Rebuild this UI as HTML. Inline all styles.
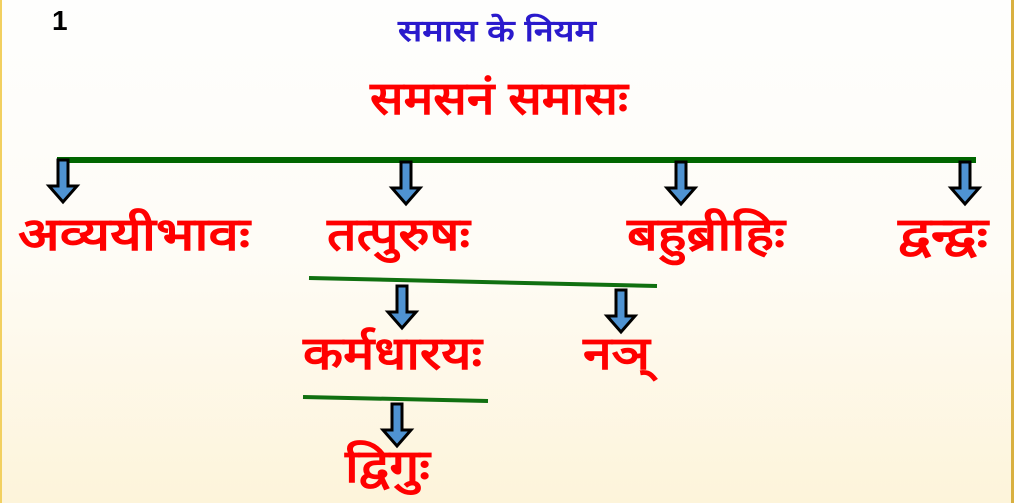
<!DOCTYPE html>
<html><head><meta charset="utf-8"><style>
html,body{margin:0;padding:0;width:1024px;height:503px;overflow:hidden;background:#fff}
svg{display:block}
text{font-family:"Liberation Sans","Noto Sans CJK SC",sans-serif;font-weight:bold}
</style></head><body>
<svg width="1024" height="503" viewBox="0 0 1024 503" xmlns="http://www.w3.org/2000/svg">
<defs>
<linearGradient id="bg" x1="0" y1="0" x2="0" y2="1">
<stop offset="0" stop-color="#fefefd"/><stop offset="0.5" stop-color="#fefcf6"/><stop offset="1" stop-color="#fdf4da"/>
</linearGradient>
<g id="arr"><path d="M-5,0 H5 V26 H14 L0,42 L-14,26 H-5 Z" fill="#4f93d2" stroke="#000" stroke-width="3" stroke-linejoin="miter"/></g>
</defs>
<rect x="0" y="0" width="1013" height="503" fill="url(#bg)"/>
<rect x="0" y="0" width="2" height="503" fill="#f2d060"/>
<rect x="1011" y="0" width="3" height="503" fill="#d9b040"/>

<text x="52" y="30" font-size="28" fill="#000">1</text>
<text x="497" y="41" font-size="30" fill="#2a1acc" text-anchor="middle" textLength="198" lengthAdjust="spacingAndGlyphs">समास के नियम</text>
<text x="499" y="114" font-size="46" fill="#ff0000" text-anchor="middle" textLength="258" lengthAdjust="spacingAndGlyphs">समसनं समासः</text>

<rect x="57" y="157" width="919" height="6" fill="#006600"/>
<use href="#arr" x="63" y="160"/>
<use href="#arr" x="406" y="162"/>
<use href="#arr" x="681" y="162"/>
<use href="#arr" x="965" y="162"/>

<text x="18" y="250" font-size="46" fill="#ff0000" textLength="232" lengthAdjust="spacingAndGlyphs">अव्ययीभावः</text>
<text x="327" y="250" font-size="46" fill="#ff0000" textLength="143" lengthAdjust="spacingAndGlyphs">तत्पुरुषः</text>
<text x="627" y="250" font-size="46" fill="#ff0000" textLength="158" lengthAdjust="spacingAndGlyphs">बहुब्रीहिः</text>
<text x="898" y="250" font-size="46" fill="#ff0000" textLength="90" lengthAdjust="spacingAndGlyphs">द्वन्द्वः</text>

<line x1="309" y1="278" x2="657" y2="286" stroke="#107010" stroke-width="4"/>
<use href="#arr" x="402" y="286"/>
<use href="#arr" x="621" y="290"/>

<text x="303" y="369" font-size="46" fill="#ff0000" textLength="179" lengthAdjust="spacingAndGlyphs">कर्मधारयः</text>
<text x="583" y="369" font-size="46" fill="#ff0000" textLength="67" lengthAdjust="spacingAndGlyphs">नञ्</text>

<line x1="303" y1="397" x2="488" y2="401" stroke="#107010" stroke-width="4"/>
<use href="#arr" x="397" y="404"/>

<text x="345" y="482" font-size="46" fill="#ff0000" textLength="85" lengthAdjust="spacingAndGlyphs">द्विगुः</text>
</svg>
</body></html>
